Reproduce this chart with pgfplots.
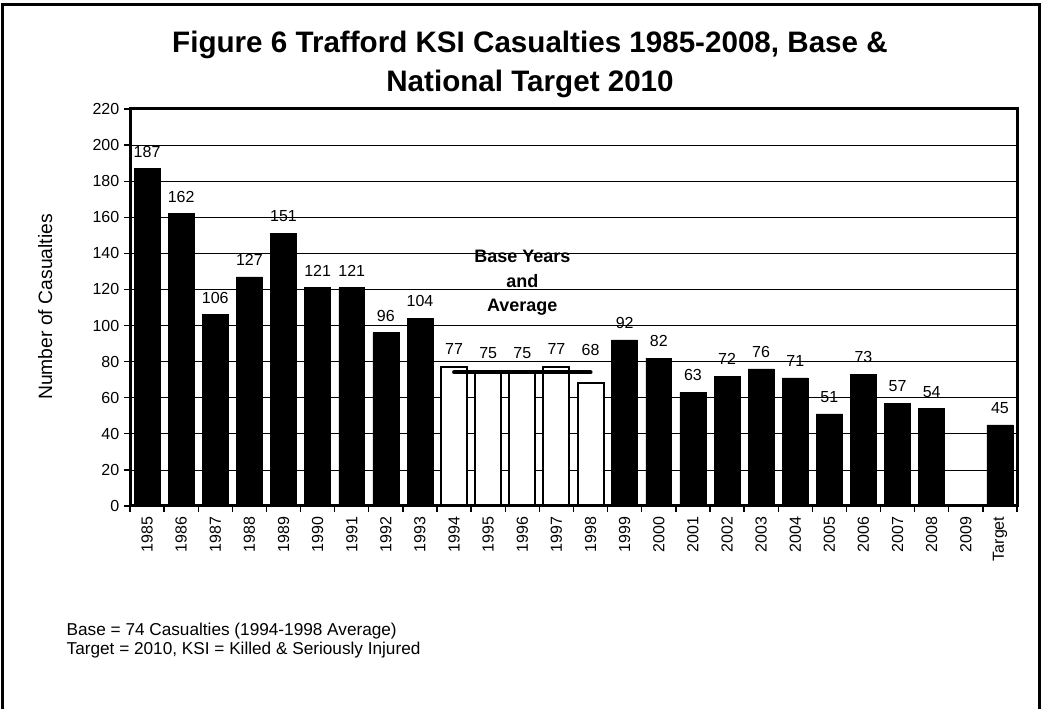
\documentclass[border=0pt]{standalone}
\usepackage{fontspec}
\setmainfont{Liberation Sans}
\usepackage{pgfplots}
\pgfplotsset{compat=1.18}
\begin{document}
\begin{tikzpicture}
\useasboundingbox (0,0) rectangle (781.5pt,531.75pt);
% outer frame (bottom edge lies below the picture)
\draw[line width=2.25pt] (1.9pt,-5pt) -- (1.9pt,528pt) -- (779.6pt,528pt) -- (779.6pt,-5pt);
% title
\node[anchor=base, font=\bfseries\fontsize{22.2}{26}\selectfont] at (397.5pt,492pt) {Figure 6 Trafford KSI Casualties 1985-2008, Base \&};
\node[anchor=base, font=\bfseries\fontsize{22.2}{26}\selectfont] at (397.5pt,463pt) {National Target 2010};
% y label
\node[rotate=90, font=\fontsize{14.5}{17}\selectfont] at (34pt,301.5pt) {Number of Casualties};
% notes
\node[anchor=base west, font=\fontsize{12.9}{15}\selectfont] at (46.5pt,54.75pt) {Base = 74 Casualties (1994-1998 Average)};
\node[anchor=base west, font=\fontsize{12.9}{15}\selectfont] at (46.5pt,40.5pt) {Target = 2010, KSI = Killed \& Seriously Injured};
\begin{axis}[
    at={(97.5pt,152.25pt)}, anchor=south west,
    scale only axis, width=665.25pt, height=297.75pt,
    xmin=-0.5, xmax=25.5, ymin=0, ymax=220,
    ytick={0,20,...,220},
    xtick={-0.5,0.5,...,25.5},
    x tick label as interval,
    xticklabels={1985,1986,1987,1988,1989,1990,1991,1992,1993,1994,1995,1996,1997,1998,1999,2000,2001,2002,2003,2004,2005,2006,2007,2008,2009,Target},
    xticklabel style={rotate=90, anchor=east, font=\fontsize{12}{14}\selectfont},
    yticklabel style={font=\fontsize{12}{14}\selectfont},
    /pgf/number format/assume math mode=true,
    ymajorgrids, grid style={black, line width=0.6pt},
    axis line style={line width=2.25pt},
    tick align=outside, major tick length=4.5pt,
    tick style={black, line width=1pt},
    xtick pos=bottom, ytick pos=left,
    ybar, bar width=0.76, bar shift=0pt,
    nodes near coords style={font=\fontsize{12}{14}\selectfont, black, yshift=5pt},
]
\addplot[ybar, bar shift=0pt, fill=black, draw=black, nodes near coords] coordinates {
    (0,187) (1,162) (2,106) (3,127) (4,151) (5,121) (6,121) (7,96) (8,104)
    (14,92) (15,82) (16,63) (17,72) (18,76) (19,71) (20,51) (21,73) (22,57) (23,54)
    (25,45)
};
\addplot[ybar, bar shift=0pt, fill=white, draw=black, line width=1.5pt, nodes near coords] coordinates {
    (9,77) (10,75) (11,75) (12,77)
};
\addplot[ybar, bar shift=0pt, fill=white, draw=black, line width=1.5pt, nodes near coords,
    nodes near coords style={yshift=12pt}] coordinates {
    (13,68)
};
% base average
\addplot[sharp plot, black, line width=3pt, line cap=round] coordinates {(9,74) (13,74)};
\draw[line width=2.25pt] (rel axis cs:0,0) -- (rel axis cs:1,0);
\node[align=center, font=\bfseries\fontsize{13.5}{18.4}\selectfont] at (axis cs:11,123.5) {Base Years\\and\\Average};
\end{axis}
\end{tikzpicture}
\end{document}
